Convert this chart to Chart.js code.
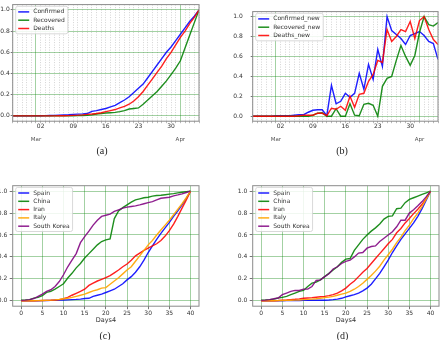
<!DOCTYPE html>
<html><head><meta charset="utf-8">
<script src="https://cdn.jsdelivr.net/npm/chart.js@4.4.1/dist/chart.umd.min.js"></script>
<style>
html,body{margin:0;padding:0;background:#fff;}
body{width:440px;height:340px;overflow:hidden;position:relative;}
canvas{position:absolute;}
.cap{position:absolute;font-family:"Liberation Serif","DejaVu Serif",serif;font-size:10px;color:#222;transform:translate(-50%,-50%);white-space:nowrap;}
</style></head><body>
<canvas id="ca" width="220" height="150" style="left:0;top:0"></canvas>
<canvas id="cb" width="220" height="150" style="left:220px;top:0"></canvas>
<canvas id="cc" width="220" height="160" style="left:0;top:170px"></canvas>
<canvas id="cd" width="220" height="160" style="left:220px;top:170px"></canvas>
<div class="cap" style="left:102px;top:149.5px">(a)</div>
<div class="cap" style="left:342px;top:149.5px">(b)</div>
<div class="cap" style="left:105px;top:335px">(c)</div>
<div class="cap" style="left:342.5px;top:335px">(d)</div>
<script>
// ---- categories / ticks ----
const days = [0,1,2,3,4,5,6,7,8,9,10,11,12,13,14,15,16,17,18,19,20,21,22,23,24,25,26,27,28,29,30,31,32,33,34,35,36,37,38,39,40];
const weekTickDays = [6,13,20,27,34];
const weekTickLabels = ['02','09','16','23','30'];
const monthTickDays = [5,36];
const monthTickLabels = ['Mar','Apr'];
const dayTicks = [0,5,10,15,20,25,30,35,40];
const yTicks = [0,0.2,0.4,0.6,0.8,1.0];

// ---- panel (a) ----
const labelsA = ['Confirmed','Recovered','Deaths'];
const confirmed = [0,0,0,0,0,0.001,0.002,0.003,0.004,0.005,0.007,0.009,0.011,0.014,0.017,0.019,0.022,0.043,0.05,0.06,0.07,0.085,0.10,0.125,0.15,0.18,0.22,0.26,0.30,0.36,0.42,0.48,0.54,0.60,0.65,0.71,0.77,0.83,0.89,0.94,1.0];
const recovered = [0,0,0,0,0,0,0,0,0,0,0,0,0,0.002,0.003,0.004,0.005,0.01,0.018,0.022,0.027,0.03,0.033,0.04,0.05,0.065,0.07,0.075,0.11,0.15,0.19,0.23,0.28,0.33,0.39,0.45,0.52,0.64,0.76,0.88,1.0];
const deaths = [0,0,0,0,0,0,0,0,0,0,0.001,0.002,0.003,0.005,0.007,0.01,0.014,0.018,0.023,0.03,0.04,0.05,0.06,0.075,0.09,0.11,0.14,0.18,0.23,0.29,0.35,0.41,0.47,0.54,0.60,0.67,0.74,0.80,0.87,0.93,1.0];

// ---- panel (b) ----
const labelsB = ['Confirmed_new','Recovered_new','Deaths_new'];
const confirmedNew = [0,0,0,0,0,0.005,0.005,0.005,0.005,0.01,0.015,0.015,0.04,0.06,0.065,0.065,0.005,0.31,0.125,0.15,0.23,0.19,0.23,0.43,0.27,0.52,0.37,0.67,0.50,1.0,0.86,0.82,0.78,0.72,0.81,0.83,0.85,0.81,0.75,0.73,0.57];
const recoveredNew = [0,0,0,0,0,0,0,0,0,0,0,0,0,0.01,0.03,0.035,0,0,0.075,0,0,0.125,0.01,0.005,0.12,0.13,0.11,0,0.30,0.38,0.40,0.56,0.71,0.60,0.51,0.61,0.84,1.0,0.92,0.905,0.94];
const deathsNew = [0,0,0,0,0,0,0,0,0,0,0.005,0.01,0.01,0.01,0.03,0.03,0.005,0.08,0.07,0.10,0.06,0.20,0.09,0.22,0.23,0.35,0.42,0.56,0.54,0.87,0.75,0.80,0.87,0.85,0.95,0.78,0.96,1.0,0.87,0.77,0.72];

// ---- panels (c) and (d) ----
const countries = ['Spain','China','Iran','Italy','South Korea'];
const spainC = [0,0,0,0,0,0.001,0.002,0.003,0.004,0.005,0.006,0.008,0.01,0.012,0.015,0.02,0.022,0.04,0.05,0.06,0.075,0.09,0.105,0.13,0.155,0.19,0.22,0.26,0.31,0.37,0.44,0.50,0.56,0.615,0.665,0.715,0.77,0.82,0.875,0.935,1.0];
const chinaC = [0.005,0.007,0.01,0.024,0.03,0.046,0.076,0.085,0.106,0.13,0.155,0.207,0.25,0.30,0.34,0.39,0.43,0.47,0.51,0.54,0.555,0.565,0.75,0.82,0.85,0.875,0.90,0.92,0.93,0.94,0.945,0.955,0.96,0.963,0.968,0.973,0.978,0.985,0.99,0.995,1.0];
const iranC = [0,0,0,0,0.001,0.002,0.003,0.004,0.006,0.01,0.018,0.03,0.05,0.068,0.085,0.105,0.14,0.16,0.18,0.195,0.21,0.23,0.255,0.28,0.31,0.335,0.37,0.41,0.435,0.46,0.48,0.50,0.52,0.55,0.59,0.64,0.70,0.77,0.845,0.92,1.0];
const italyC = [0,0,0,0,0.001,0.002,0.003,0.005,0.008,0.012,0.018,0.022,0.03,0.04,0.05,0.06,0.075,0.09,0.10,0.115,0.12,0.15,0.18,0.21,0.245,0.28,0.31,0.36,0.41,0.46,0.51,0.55,0.60,0.645,0.69,0.735,0.785,0.835,0.885,0.94,1.0];
const koreaC = [0.003,0.005,0.01,0.02,0.04,0.06,0.085,0.10,0.13,0.175,0.237,0.31,0.37,0.43,0.53,0.585,0.635,0.69,0.735,0.77,0.78,0.79,0.815,0.83,0.845,0.854,0.86,0.866,0.875,0.885,0.895,0.905,0.92,0.935,0.94,0.945,0.957,0.966,0.976,0.988,1.0];

const spainD = [0,0,0,0,0,0,0.001,0.001,0.002,0.002,0.003,0.003,0.004,0.004,0.005,0.005,0.007,0.01,0.015,0.022,0.035,0.045,0.055,0.07,0.09,0.115,0.15,0.20,0.25,0.31,0.37,0.44,0.50,0.56,0.61,0.66,0.71,0.77,0.84,0.92,1.0];
const chinaD = [0.005,0.007,0.01,0.015,0.025,0.03,0.04,0.055,0.07,0.085,0.094,0.13,0.16,0.17,0.19,0.22,0.25,0.28,0.31,0.35,0.38,0.385,0.46,0.51,0.56,0.60,0.635,0.665,0.70,0.745,0.77,0.775,0.84,0.845,0.895,0.925,0.94,0.955,0.97,0.985,1.0];
const iranD = [0,0,0,0,0.002,0.005,0.007,0.01,0.013,0.017,0.022,0.025,0.028,0.032,0.036,0.04,0.047,0.055,0.07,0.09,0.115,0.15,0.18,0.22,0.26,0.295,0.34,0.385,0.43,0.475,0.52,0.56,0.62,0.66,0.71,0.75,0.795,0.835,0.88,0.935,1.0];
const italyD = [0,0,0,0,0.001,0.002,0.003,0.004,0.005,0.007,0.01,0.012,0.015,0.018,0.022,0.028,0.033,0.04,0.05,0.06,0.07,0.085,0.105,0.13,0.16,0.195,0.23,0.27,0.315,0.37,0.42,0.47,0.53,0.58,0.64,0.69,0.75,0.80,0.86,0.93,1.0];
const koreaD = [0.003,0.005,0.01,0.018,0.025,0.055,0.07,0.085,0.094,0.094,0.106,0.106,0.13,0.185,0.19,0.22,0.246,0.29,0.31,0.34,0.36,0.37,0.40,0.435,0.44,0.48,0.495,0.50,0.54,0.57,0.60,0.63,0.675,0.735,0.735,0.80,0.83,0.866,0.905,0.95,1.0];

// ---- styling ----
const FAM = '"DejaVu Sans", sans-serif';
const C_BLUE='rgba(0,0,255,0.88)', C_GREEN='rgba(0,128,0,0.88)', C_RED='rgba(255,0,0,0.88)', C_ORANGE='rgba(255,165,0,0.92)', C_PURPLE='rgba(128,0,128,0.88)';
const GRID_GREEN = 'rgba(0,128,0,0.36)';
const TXT = '#333';

const framePlugin = {
  id:'frame',
  afterDatasetsDraw(chart){
    const {ctx, chartArea:a} = chart;
    ctx.save();
    ctx.strokeStyle='#8a8a8a'; ctx.lineWidth=1;
    ctx.strokeRect(a.left, a.top, a.right-a.left, a.bottom-a.top);
    // legend box
    const ds = chart.data.datasets;
    ctx.font = '6px ' + FAM;
    const rowH = 8.3;
    let tw = 0; ds.forEach(d=>{tw=Math.max(tw,ctx.measureText(d.label).width);});
    const x0 = a.left+3, y0 = a.top+1.7;
    const w = 17.5+tw+3, h = ds.length*rowH+2.6;
    ctx.fillStyle='rgba(255,255,255,0.85)'; ctx.strokeStyle='#cfcfcf'; ctx.lineWidth=0.8;
    ctx.beginPath(); ctx.roundRect(x0,y0,w,h,2); ctx.fill(); ctx.stroke();
    ds.forEach((d,i)=>{
      const y = y0+5.6+i*rowH;
      ctx.strokeStyle=d.borderColor; ctx.lineWidth=1.5;
      ctx.beginPath(); ctx.moveTo(x0+2.5,y); ctx.lineTo(x0+13.5,y); ctx.stroke();
      ctx.fillStyle=TXT; ctx.textBaseline='middle'; ctx.textAlign='left';
      ctx.fillText(d.label, x0+17.5, y);
    });
    ctx.restore();
  }
};

function mkDatasets(labels, series, colors){
  const n = series.length;
  return series.map((s,i)=>({
    label: labels[i],
    data: s.map((v,j)=>({x:days[j], y:v})),
    borderColor: colors[i], borderWidth:1.4, pointRadius:0, tension:0, fill:false,
    order: n-i
  }));
}

function yScale(width, pad, tl){
  return {
    type:'linear', min:-0.05, max:1.05, position:'left',
    afterBuildTicks:s=>{s.ticks=yTicks.map(v=>({value:v}));},
    afterFit:s=>{s.width=width;},
    ticks:{callback:v=>Number(v).toFixed(1), font:{size:6,family:FAM}, color:TXT, padding:pad},
    grid:{color:GRID_GREEN, lineWidth:1, tickLength:tl, tickColor:'#777'},
    border:{display:false}
  };
}

function dateChart(id, labels, series, colors, yW, yPad, rightPad){
  return new Chart(document.getElementById(id), {
    type:'line',
    data:{datasets: mkDatasets(labels, series, colors)},
    options:{
      responsive:false, animation:false, devicePixelRatio:1, events:[],
      layout:{padding:{left:0, right:rightPad, top:0.5, bottom:0}},
      plugins:{legend:{display:false}, tooltip:{enabled:false}},
      scales:{
        x:{type:'linear', min:0, max:40, position:'bottom',
           afterBuildTicks:s=>{s.ticks=days.map(v=>({value:v}));},
           afterFit:s=>{s.height=12.8;},
           ticks:{autoSkip:false, maxRotation:0, padding:0, font:{size:6,family:FAM}, color:TXT,
                  callback:v=>{const k=weekTickDays.indexOf(v); return k>=0?weekTickLabels[k]:'';}},
           grid:{color:c=>monthTickDays.includes(c.tick&&c.tick.value)?'rgba(0,0,0,0)':'rgba(0,0,0,0.22)',
                 lineWidth:0.8, tickLength:2, tickColor:'rgba(0,0,0,0.35)'},
           border:{display:false, dash:[1,1.5]}
        },
        x2:{type:'linear', min:0, max:40, position:'bottom',
           afterBuildTicks:s=>{s.ticks=monthTickDays.map(v=>({value:v}));},
           afterFit:s=>{s.height=16;},
           ticks:{autoSkip:false, maxRotation:0, padding:2.3, font:{size:5.5,family:FAM}, color:'#555',
                  callback:v=>{const k=monthTickDays.indexOf(v); return k>=0?monthTickLabels[k]:'';}},
           grid:{color:GRID_GREEN, lineWidth:1, drawTicks:false},
           border:{display:false}
        },
        y: yScale(yW, yPad, 2)
      }
    },
    plugins:[framePlugin]
  });
}

function dayChart(id, series, yW, yPad, rightPad){
  return new Chart(document.getElementById(id), {
    type:'line',
    data:{datasets: mkDatasets(countries, series, [C_BLUE,C_GREEN,C_RED,C_ORANGE,C_PURPLE])},
    options:{
      responsive:false, animation:false, devicePixelRatio:1, events:[],
      layout:{padding:{left:0, right:rightPad, top:15.7, bottom:6.1}},
      plugins:{legend:{display:false}, tooltip:{enabled:false}},
      scales:{
        x:{type:'linear', min:-2, max:42, position:'bottom',
           afterBuildTicks:s=>{s.ticks=dayTicks.map(v=>({value:v}));},
           afterFit:s=>{s.height=17.7;},
           ticks:{autoSkip:false, maxRotation:0, padding:1, font:{size:6,family:FAM}, color:TXT,
                  callback:v=>String(v)},
           grid:{color:GRID_GREEN, lineWidth:1, tickLength:3, tickColor:'#777'},
           border:{display:false},
           title:{display:true, text:'Days4', font:{size:6.5,family:FAM}, color:TXT, padding:0}
        },
        y: yScale(yW, yPad, 3)
      }
    },
    plugins:[framePlugin]
  });
}

dateChart('ca', labelsA, [confirmed, recovered, deaths], [C_BLUE,C_GREEN,C_RED], 12.7, 1, 21);
dateChart('cb', labelsB, [confirmedNew, recoveredNew, deathsNew], [C_BLUE,C_GREEN,C_RED], 32.7, 8, 2);
dayChart('cc', [spainC, chinaC, iranC, italyC, koreaC], 12.7, 2.5, 21);
dayChart('cd', [spainD, chinaD, iranD, italyD, koreaD], 32.7, 2.5, 1);
</script>
</body></html>
